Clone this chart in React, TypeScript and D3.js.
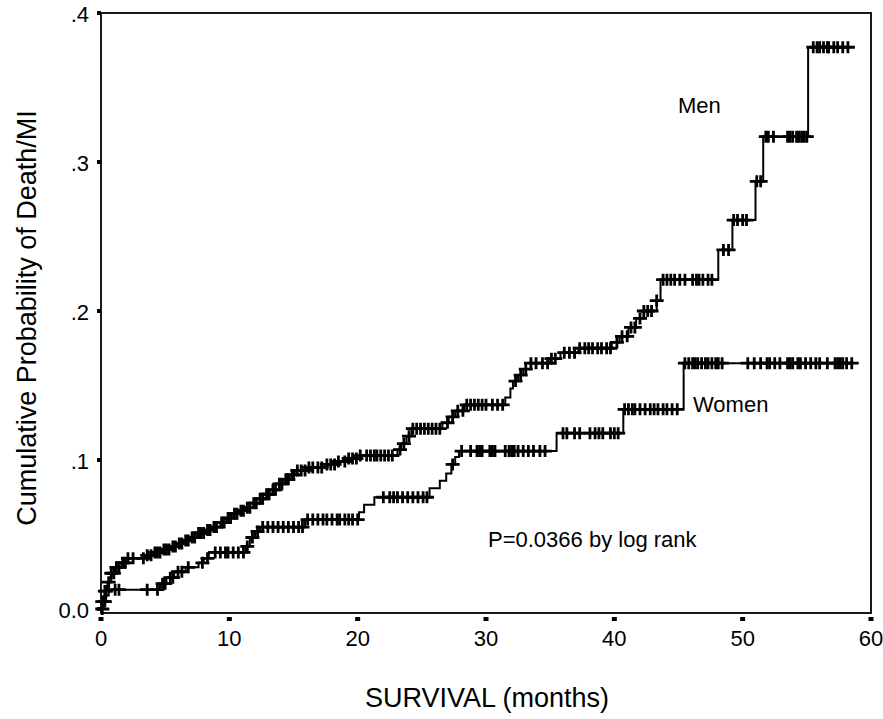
import { useRef, useEffect } from 'react';
import * as d3 from 'd3';

// Kaplan-Meier step data (time in months, cumulative probability of death/MI)
const menStepTimes = [0.1, 0.3, 0.5, 0.8, 1.1, 1.6, 2.1, 3.4, 4.2, 4.8, 5.4, 6.0, 6.5, 7.0, 7.5, 8.1, 8.7, 9.3, 9.8, 10.3, 10.9, 11.4, 11.9, 12.4, 12.9, 13.4, 13.9, 14.3, 14.7, 15.1, 16.0, 17.6, 18.3, 19.2, 20.1, 23.1, 23.4, 23.8, 24.2, 26.6, 27.1, 27.6, 28.3, 31.5, 31.9, 32.1, 32.5, 32.9, 33.5, 35.0, 35.8, 37.2, 39.8, 40.4, 41.1, 41.7, 42.3, 43.3, 43.6, 48.1, 49.2, 51.0, 51.6, 55.1];
const menStepProbs = [0.005, 0.012, 0.018, 0.024, 0.028, 0.031, 0.034, 0.036, 0.038, 0.040, 0.042, 0.044, 0.046, 0.048, 0.051, 0.053, 0.055, 0.058, 0.061, 0.064, 0.066, 0.068, 0.071, 0.074, 0.077, 0.080, 0.084, 0.087, 0.090, 0.093, 0.095, 0.097, 0.099, 0.101, 0.103, 0.107, 0.111, 0.116, 0.121, 0.125, 0.129, 0.133, 0.137, 0.142, 0.148, 0.153, 0.157, 0.161, 0.165, 0.168, 0.172, 0.175, 0.179, 0.183, 0.189, 0.195, 0.200, 0.207, 0.221, 0.241, 0.261, 0.287, 0.317, 0.377];
const menCensored = [0.1, 0.2, 0.3, 0.4, 0.6, 0.8, 1.0, 1.2, 1.4, 1.7, 1.9, 2.1, 2.5, 3.3, 3.6, 3.9, 4.2, 4.4, 4.6, 4.9, 5.1, 5.3, 5.6, 5.8, 6.1, 6.3, 6.6, 6.8, 7.1, 7.3, 7.6, 7.8, 8.0, 8.3, 8.5, 8.8, 9.0, 9.4, 9.6, 9.9, 10.1, 10.4, 10.6, 10.9, 11.1, 11.4, 11.6, 11.9, 12.1, 12.4, 12.6, 12.9, 13.1, 13.4, 13.6, 13.9, 14.1, 14.4, 14.6, 14.9, 15.0, 15.3, 15.6, 15.9, 16.2, 16.5, 16.9, 17.2, 17.6, 17.9, 18.2, 18.5, 19.0, 19.3, 19.6, 19.9, 20.2, 20.7, 21.0, 21.3, 21.5, 21.8, 22.1, 22.4, 22.7, 23.3, 23.6, 24.0, 24.3, 24.6, 24.9, 25.2, 25.5, 25.8, 26.1, 26.4, 27.0, 27.4, 27.8, 28.2, 28.5, 28.8, 29.1, 29.4, 29.7, 30.0, 30.5, 30.9, 31.3, 32.3, 32.7, 33.1, 33.5, 33.9, 34.4, 34.8, 35.1, 35.4, 36.1, 36.5, 36.9, 37.3, 37.7, 38.0, 38.3, 38.7, 39.0, 39.4, 39.7, 40.2, 40.6, 41.0, 41.3, 41.6, 42.0, 42.3, 42.6, 42.9, 43.3, 43.8, 44.1, 44.4, 44.7, 45.1, 45.5, 46.1, 46.4, 46.6, 46.9, 47.3, 47.6, 48.5, 48.9, 49.3, 49.6, 50.0, 50.3, 51.1, 51.4, 51.8, 52.0, 52.4, 53.5, 53.7, 53.9, 54.2, 54.4, 54.6, 54.8, 55.0, 55.5, 55.8, 56.0, 56.3, 56.6, 56.7, 57.1, 57.4, 57.8, 58.2];

const womenStepTimes = [0.2, 0.4, 0.6, 4.6, 5.1, 5.7, 6.6, 7.6, 8.0, 8.4, 11.3, 11.6, 12.0, 12.4, 15.9, 20.1, 20.5, 21.3, 25.6, 26.4, 26.9, 27.3, 27.6, 27.9, 35.5, 40.7, 45.4];
const womenStepProbs = [0.005, 0.009, 0.013, 0.017, 0.021, 0.025, 0.028, 0.031, 0.034, 0.038, 0.042, 0.048, 0.052, 0.055, 0.060, 0.065, 0.070, 0.075, 0.081, 0.086, 0.091, 0.097, 0.102, 0.106, 0.118, 0.134, 0.165];
const womenCensored = [0.1, 0.3, 1.1, 1.4, 3.6, 4.4, 4.8, 5.0, 5.4, 5.6, 6.0, 6.3, 6.8, 7.9, 8.3, 8.9, 9.3, 9.7, 9.9, 10.3, 10.7, 11.1, 11.4, 11.8, 12.2, 12.6, 13.0, 13.4, 13.8, 14.2, 14.6, 15.0, 15.4, 15.7, 16.1, 16.5, 16.9, 17.3, 17.6, 18.0, 18.4, 18.6, 19.0, 19.3, 19.6, 20.0, 22.0, 22.5, 22.8, 23.1, 23.5, 23.9, 24.3, 24.7, 25.1, 25.4, 27.4, 28.1, 28.8, 29.3, 29.5, 29.7, 30.3, 30.5, 30.7, 31.5, 31.8, 32.0, 32.2, 32.5, 32.9, 33.3, 33.7, 34.2, 34.6, 36.0, 36.3, 36.9, 37.3, 38.1, 38.5, 38.8, 39.1, 39.7, 40.0, 40.3, 40.8, 41.1, 41.4, 41.6, 42.0, 42.4, 42.8, 43.1, 43.4, 43.8, 44.1, 44.5, 44.9, 45.5, 45.8, 46.1, 46.3, 46.5, 46.8, 47.1, 47.3, 47.6, 47.9, 48.1, 48.4, 50.4, 50.9, 51.4, 51.9, 52.1, 52.5, 52.9, 53.5, 53.7, 53.9, 54.3, 54.5, 54.9, 55.3, 55.7, 56.0, 56.6, 57.2, 57.4, 57.6, 57.8, 58.1, 58.5];

const xTicks = [0, 10, 20, 30, 40, 50, 60];
const yTicks = [0, 0.1, 0.2, 0.3, 0.4];
const yTickLabels = ['0.0', '.1', '.2', '.3', '.4'];

const FONT = '"Liberation Sans", Arial, sans-serif';

function App() {

    const svgRef = useRef<SVGSVGElement>(null);

    useEffect(() => {
        const width = 883;
        const height = 719;

        const x = d3.scaleLinear().domain([0, 60]).range([101, 871]);
        const y = d3.scaleLinear().domain([0, 0.4]).range([609, 13]);
        const frameBottom = 613;

        const svg = d3.select(svgRef.current)
            .attr('width', width)
            .attr('height', height);

        svg.selectAll('*').remove();

        svg.append('rect').attr('width', width).attr('height', height).attr('fill', '#fff');

        //Plot frame
        svg.append('rect')
            .attr('x', x(0))
            .attr('y', y(0.4))
            .attr('width', x(60) - x(0))
            .attr('height', frameBottom - y(0.4))
            .attr('fill', 'none')
            .attr('stroke', '#000')
            .attr('stroke-width', 1.8);

        //Y ticks (small squares) and labels
        svg.selectAll('.ytick')
            .data(yTicks)
            .join('rect')
            .attr('x', x(0) - 4)
            .attr('y', d => y(d) - 2)
            .attr('width', 4)
            .attr('height', 4)
            .attr('fill', '#000');

        svg.selectAll('.ylab')
            .data(yTicks)
            .join('text')
            .attr('x', 89)
            .attr('y', d => y(d) + 9)
            .attr('text-anchor', 'end')
            .attr('font-family', FONT)
            .attr('font-size', 22)
            .attr('fill', '#000')
            .text((d, i) => yTickLabels[i]);

        //X ticks and labels
        svg.selectAll('.xtick')
            .data(xTicks)
            .join('rect')
            .attr('x', d => x(d) - 2.5)
            .attr('y', frameBottom + 4)
            .attr('width', 5)
            .attr('height', 4)
            .attr('fill', '#000');

        svg.selectAll('.xlab')
            .data(xTicks)
            .join('text')
            .attr('x', d => x(d))
            .attr('y', 646)
            .attr('text-anchor', 'middle')
            .attr('font-family', FONT)
            .attr('font-size', 22)
            .attr('fill', '#000')
            .text(d => d);

        //Axis titles
        svg.append('text')
            .attr('x', 487)
            .attr('y', 707)
            .attr('text-anchor', 'middle')
            .attr('font-family', FONT)
            .attr('font-size', 27)
            .attr('fill', '#000')
            .text('SURVIVAL (months)');

        svg.append('text')
            .attr('transform', 'translate(36,318) rotate(-90)')
            .attr('text-anchor', 'middle')
            .attr('font-family', FONT)
            .attr('font-size', 27)
            .attr('fill', '#000')
            .text('Cumulative Probability of Death/MI');

        //Step curves with censoring marks
        const line = d3.line<[number, number]>()
            .x(d => x(d[0]))
            .y(d => y(d[1]))
            .curve(d3.curveStepAfter);

        const drawCurve = (times: number[], probs: number[], censored: number[]) => {
            const valueAt = (t: number) => {
                let v = 0;
                times.forEach((s, i) => { if (s <= t) v = probs[i]; });
                return v;
            };
            const end = d3.max(censored) as number;
            const pts: [number, number][] = [[0, 0]];
            times.forEach((t, i) => pts.push([t, probs[i]]));
            pts.push([end, valueAt(end)]);

            svg.append('path')
                .attr('d', line(pts))
                .attr('fill', 'none')
                .attr('stroke', '#000')
                .attr('stroke-width', 2);

            svg.append('g')
                .selectAll('path')
                .data(censored)
                .join('path')
                .attr('d', t => {
                    const cx = x(t), cy = y(valueAt(t));
                    return `M${cx - 7},${cy}H${cx + 7}M${cx},${cy - 6}V${cy + 6}`;
                })
                .attr('fill', 'none')
                .attr('stroke', '#000')
                .attr('stroke-width', 2.8);
        };

        drawCurve(menStepTimes, menStepProbs, menCensored);
        drawCurve(womenStepTimes, womenStepProbs, womenCensored);

        //Annotations
        const note = (tx: number, ty: number, s: string) => svg.append('text')
            .attr('x', tx)
            .attr('y', ty)
            .attr('font-family', FONT)
            .attr('font-size', 22)
            .attr('fill', '#000')
            .text(s);

        note(678, 113, 'Men');
        note(693, 412, 'Women');
        note(488, 547, 'P=0.0366 by log rank');
    }, []);

    return <svg ref={svgRef} style={{ position: 'absolute', left: 0, top: 0, display: 'block' }} />;
}

export default App;
